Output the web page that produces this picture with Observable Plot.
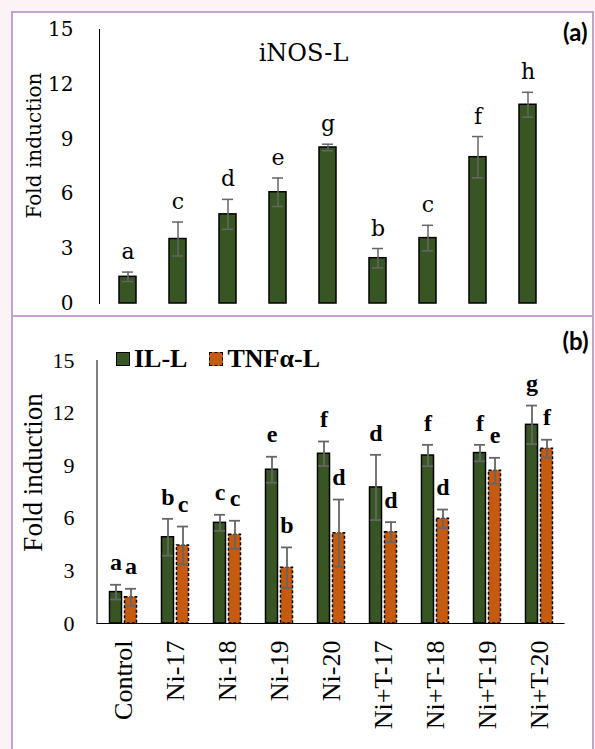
<!DOCTYPE html>
<html>
<head>
<meta charset="utf-8">
<script src="https://cdn.jsdelivr.net/npm/d3@7"></script>
<script src="https://cdn.jsdelivr.net/npm/@observablehq/plot@0.6"></script>
<style>
  html, body { margin: 0; padding: 0; background: #fcf3f6; overflow: hidden; }
  .box { position: absolute; background: #fff; border: 2px solid #c3a3c9; }
  .divider { position: absolute; background: #c3a3c9; }
  .panel { position: absolute; }
  .legend { position: absolute; display: flex; align-items: center; line-height: 30px;
            font-family: "Liberation Serif", serif; font-weight: bold; font-size: 26px; color: #000; }
  .legend .sw { width: 12px; height: 12px; margin-right: 4px; box-sizing: content-box; }
  .legend .item { display: flex; align-items: center; margin-right: 22px; }
</style>
</head>
<body>
<div class="box" style="left:11px; top:11px; width:579px; height:800px;"></div>
<div class="divider" style="left:11px; top:315px; width:583px; height:2px;"></div>
<div class="panel" id="panelA" style="left:13px; top:13px;"></div>
<div class="panel" id="panelB" style="left:13px; top:317px;"></div>
<div class="legend" style="left:116px; top:344px;">
  <div class="item"><div class="sw" style="background:#375623; border:1.5px solid #000;"></div><span>IL-L</span></div>
  <div class="item"><div class="sw" style="background:#c55a11; border:1.5px dashed #000;"></div><span>TNFα-L</span></div>
</div>
<script>
// Treatments (shared by both panels)
const groups = ["Control", "Ni-17", "Ni-18", "Ni-19", "Ni-20", "Ni+T-17", "Ni+T-18", "Ni+T-19", "Ni+T-20"];
const yTicks = [0, 3, 6, 9, 12, 15];

// (a) iNOS-L fold induction
const inosMean = [1.46, 3.53, 4.88, 6.09, 8.54, 2.48, 3.58, 8.01, 10.88];
const inosErr = [0.26, 0.93, 0.82, 0.78, 0.18, 0.53, 0.70, 1.13, 0.68];
const inosLetters = ["a", "c", "d", "e", "g", "b", "c", "f", "h"];

// (b) IL-L and TNFα-L fold induction
const ilMean = [1.79, 4.92, 5.74, 8.77, 9.68, 7.76, 9.58, 9.72, 11.33];
const ilErr = [0.42, 1.05, 0.46, 0.74, 0.70, 1.86, 0.61, 0.47, 1.10];
const ilLetters = ["a", "b", "c", "e", "f", "d", "f", "f", "g"];
const tnfMean = [1.50, 4.45, 5.06, 3.18, 5.15, 5.21, 5.97, 8.71, 9.97];
const tnfErr = [0.48, 1.08, 0.80, 1.16, 1.92, 0.57, 0.53, 0.74, 0.51];
const tnfLetters = ["a", "c", "c", "b", "d", "d", "d", "e", "f"];

const green = "#375623";
const orange = "#c55a11";
const errColor = "#666666";
const serifA = "DejaVu Serif, serif";
const serifB = "Liberation Serif, Times New Roman, serif";

const rows = (mean, err, letters) => groups.map((g, i) => ({group: g, mean: mean[i], err: err[i], letter: letters[i]}));
const lo = d => d.mean - d.err;
const hi = d => d.mean + d.err;

const inosRows = rows(inosMean, inosErr, inosLetters);
const ilRows = rows(ilMean, ilErr, ilLetters);
const tnfRows = rows(tnfMean, tnfErr, tnfLetters);

// Panel (a)
const chartA = Plot.plot({
  width: 579, height: 302,
  marginTop: 16, marginBottom: 12, marginLeft: 86, marginRight: 37,
  x: {domain: groups, paddingInner: 0.664, paddingOuter: 0.332, axis: null},
  y: {domain: [0, 15], axis: null},
  marks: [
    Plot.frame({anchor: "left", stroke: "#000", strokeWidth: 1}),
    Plot.axisY({ticks: yTicks, tickSize: 0, tickPadding: 26, fontSize: 20, fontFamily: serifA, label: null}),
    Plot.barY(inosRows, {x: "group", y: "mean", fill: green, stroke: "#000", strokeWidth: 1.5}),
    Plot.ruleX(inosRows, {x: "group", y1: lo, y2: hi, stroke: errColor, strokeWidth: 1.5}),
    Plot.tickY(inosRows, {x: "group", y: lo, stroke: errColor, strokeWidth: 1.5, insetLeft: 3, insetRight: 3}),
    Plot.tickY(inosRows, {x: "group", y: hi, stroke: errColor, strokeWidth: 1.5, insetLeft: 3, insetRight: 3}),
    Plot.text(inosRows, {x: "group", y: hi, text: "letter", dy: -20, lineAnchor: "middle", fontSize: 22, fontFamily: serifA, fill: "#000"}),
    Plot.text(["iNOS-L"], {frameAnchor: "top", dx: -24, dy: 24, lineAnchor: "middle", fontSize: 24, fontFamily: serifA, fill: "#000"}),
    Plot.text(["(a)"], {frameAnchor: "top-right", textAnchor: "end", dx: 32, dy: 4, lineAnchor: "middle", fontSize: 24, fontWeight: "bold", fontFamily: "Lato, sans-serif", fill: "#000"}),
    Plot.text(["Fold induction"], {frameAnchor: "left", textAnchor: "middle", rotate: -90, dx: -65, dy: -21, lineAnchor: "middle", fontSize: 20, fontFamily: serifA, fill: "#000"})
  ]
});
document.getElementById("panelA").append(chartA);

// Panel (b)
const chartB = Plot.plot({
  width: 579, height: 432,
  marginTop: 43, marginBottom: 126, marginLeft: 83.5, marginRight: 27.5,
  x: {domain: groups, padding: 0},
  y: {domain: [0, 15], axis: null},
  marks: [
    Plot.frame({anchor: "left", stroke: "#000", strokeWidth: 1}),
    Plot.axisY({ticks: yTicks, tickSize: 0, tickPadding: 22.5, fontSize: 22, fontFamily: serifB, label: null}),
    Plot.axisX({tickRotate: -90, tickSize: 0, tickPadding: 17, fontSize: 26, fontFamily: serifB, label: null}),
    Plot.barY(ilRows, {x: "group", y: "mean", fill: green, stroke: "#000", strokeWidth: 1.5, insetLeft: 12.5, insetRight: 27.5}),
    Plot.barY(tnfRows, {x: "group", y: "mean", fill: orange, stroke: "#000", strokeWidth: 1.5, strokeDasharray: "3,2", insetLeft: 27.5, insetRight: 12.5}),
    Plot.ruleY([0], {stroke: "#000", strokeWidth: 1.2}),
    Plot.ruleX(ilRows, {x: "group", y1: lo, y2: hi, dx: -7.5, stroke: errColor, strokeWidth: 1.8}),
    Plot.tickY(ilRows, {x: "group", y: lo, stroke: errColor, strokeWidth: 1.8, insetLeft: 13, insetRight: 28}),
    Plot.tickY(ilRows, {x: "group", y: hi, stroke: errColor, strokeWidth: 1.8, insetLeft: 13, insetRight: 28}),
    Plot.ruleX(tnfRows, {x: "group", y1: lo, y2: hi, dx: 7.5, stroke: errColor, strokeWidth: 1.8}),
    Plot.tickY(tnfRows, {x: "group", y: lo, stroke: errColor, strokeWidth: 1.8, insetLeft: 28, insetRight: 13}),
    Plot.tickY(tnfRows, {x: "group", y: hi, stroke: errColor, strokeWidth: 1.8, insetLeft: 28, insetRight: 13}),
    Plot.text(ilRows, {x: "group", y: hi, text: "letter", dx: -7.5, dy: -22, lineAnchor: "middle", fontSize: 24, fontWeight: "bold", fontFamily: serifB, fill: "#000"}),
    Plot.text(tnfRows, {x: "group", y: hi, text: "letter", dx: 7.5, dy: -22, lineAnchor: "middle", fontSize: 24, fontWeight: "bold", fontFamily: serifB, fill: "#000"}),
    Plot.text(["(b)"], {frameAnchor: "top-right", textAnchor: "end", dx: 23.5, dy: -18, lineAnchor: "middle", fontSize: 24, fontWeight: "bold", fontFamily: "Lato, sans-serif", fill: "#000"}),
    Plot.text(["Fold induction"], {frameAnchor: "left", textAnchor: "middle", rotate: -90, dx: -63.5, dy: -19.5, lineAnchor: "middle", fontSize: 27, fontFamily: serifB, fill: "#000"})
  ]
});
document.getElementById("panelB").append(chartB);
</script>
</body>
</html>
